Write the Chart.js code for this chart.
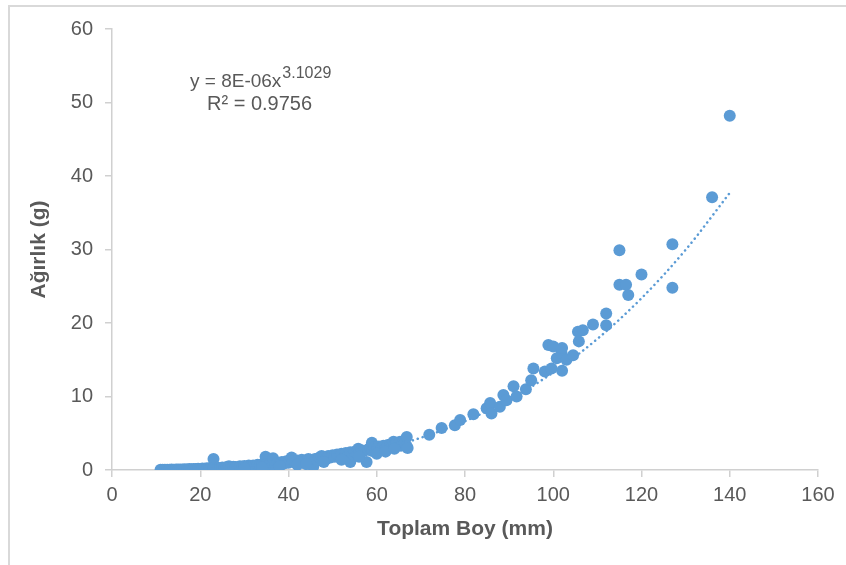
<!DOCTYPE html>
<html><head><meta charset="utf-8">
<script src="https://cdn.jsdelivr.net/npm/chart.js@4/dist/chart.umd.min.js"></script>
<style>
html,body{margin:0;padding:0;background:#fff;}
#wrap{position:relative;width:846px;height:565px;overflow:hidden;}
#frame{position:absolute;left:8px;top:5px;width:900px;height:700px;border-left:2px solid #d9d9d9;border-top:2px solid #d9d9d9;}
canvas{position:absolute;left:0;top:0;}
</style></head>
<body><div id="wrap"><div id="frame"></div><canvas id="c" width="846" height="565"></canvas></div>
<script>
// Observed points: total length (mm) and weight (g)
const lengthMm = [
 11,11.5,12,12.5,13,13.5,14,14.5,15,15.5,16,16.5,17,17.5,18,18.5,19,19.5,20,20.5,21,21.5,22,22.5,23,23,24,24.5,25,25.5,26,26.5,27,27.5,28,28.5,29,29.5,30,30.5,31,31.5,32,32.5,33,33.5,34,34.8,35,35.5,36,36.5,37,37.5,38,38.5,39,39.5,40,40.7,41,41.5,42,42.5,43,43.5,44,44.5,45,45.6,46,46.5,47,47.5,48,48.5,49,49.5,50,50.5,51,51.5,52,52.5,53,53.5,54,54,54.5,55,55.5,55.8,56,56.5,57,57.7,58,58.5,58.9,59,59.5,60,60.5,61,61.5,62,62.5,63,63.5,63.8,64,64.5,65,65.3,65.5,66,66.3,66.8,66.8,67,
 30,34,38,42,44,48,52,56,60,62,64,
 71.9,74.7,77.7,78.9,81.9,84.9,85.7,86,87.9,88.7,89.4,91,91.7,93.8,95,95.5,98.1,98.9,99.6,100,100.8,101.9,102,102,103,104.5,105.6,105.8,106.7,109,112,112,115,115,116.5,117,120,127,127,136,140
];
const weightG = [
 0.02,0.03,0.03,0.05,0.04,0.06,0.05,0.07,0.06,0.08,0.07,0.1,0.08,0.12,0.1,0.14,0.12,0.16,0.15,0.2,0.18,0.25,0.2,0.3,1.5,0.25,0.3,0.2,0.35,0.25,0.4,0.5,0.3,0.45,0.4,0.35,0.5,0.45,0.55,0.4,0.6,0.5,0.6,0.55,0.7,0.6,0.75,1.8,0.8,0.6,0.9,1.6,0.7,1.0,0.85,1.1,0.9,1.2,1.0,1.7,1.2,1.0,1.3,1.1,1.4,1.2,1.3,1.5,1.4,0.45,1.5,1.3,1.7,1.9,1.8,1.5,1.9,1.7,2.0,1.8,2.1,1.9,2.2,1.6,2.3,2.0,2.4,1.1,2.2,2.5,2.3,2.9,2.4,2.7,2.6,1.1,2.8,3.0,3.7,2.6,3.1,2.8,3.2,2.9,3.3,3.0,3.4,3.2,3.6,3.85,3.4,3.7,3.5,3.85,3.3,3.8,3.6,4.5,3.2,3.0,
 0.2,0.35,0.5,0.7,0.8,1.1,1.4,1.8,2.2,2.5,2.9,
 4.8,5.7,6.1,6.8,7.6,8.4,9.1,7.7,8.6,10.2,9.5,11.4,10.0,11.0,12.2,13.8,13.4,17.0,13.8,16.8,15.2,15.9,16.6,13.5,15.0,15.6,18.8,17.5,19.0,19.8,21.3,19.7,29.9,25.2,25.2,23.8,26.6,30.7,24.8,37.1,48.2
];
// Trendline values
const trendX = [11,20,30,40,50,60,70,80,90,100,110,120,130,140];
const trendY = [0.014,0.09,0.32,0.77,1.54,2.72,4.39,6.64,9.56,13.27,17.84,23.37,29.96,37.7];
const xTicks = [0,20,40,60,80,100,120,140,160];
const yTicks = [0,10,20,30,40,50,60];
const eqMain = 'y = 8E-06x';
const eqExp = '3.1029';
const eqR2 = 'R² = 0.9756';

const pts = lengthMm.map((x,i)=>({x:x,y:weightG[i]}));
const trend = trendX.map((x,i)=>({x:x,y:trendY[i]}));
const gray = '#595959';
const FONT = '"Liberation Sans", Arial, sans-serif';

const eqPlugin = {
  id:'eq',
  afterDraw(chart){
    const c = chart.ctx;
    c.save();
    c.fillStyle = gray;
    c.textBaseline = 'alphabetic';
    c.textAlign = 'left';
    c.font = '19px ' + FONT;
    const w1 = c.measureText(eqMain).width;
    const x0 = 190;
    c.fillText(eqMain, x0, 87);
    c.font = '16px ' + FONT;
    c.fillText(eqExp, x0 + w1 + 1, 78);
    c.font = '20px ' + FONT;
    c.fillText(eqR2, 207, 110);
    c.restore();
  }
};

new Chart(document.getElementById('c'), {
  type:'scatter',
  data:{datasets:[
    {data:trend, type:'line', showLine:true, borderColor:'#5b9bd5', borderWidth:2.5, borderDash:[0.1,5], borderCapStyle:'round', pointRadius:0, cubicInterpolationMode:'monotone', fill:false, order:1},
    {data:pts, backgroundColor:'#5b9bd5', borderColor:'#5b9bd5', pointRadius:6, pointHoverRadius:6, borderWidth:0, order:0}
  ]},
  options:{
    responsive:false, animation:false, devicePixelRatio:1,
    layout:{padding:{left:0,top:29,right:28,bottom:0}},
    plugins:{legend:{display:false}, tooltip:{enabled:false}},
    scales:{
      x:{type:'linear', min:0, max:160,
        afterBuildTicks(s){ s.ticks = xTicks.map(v=>({value:v})); },
        afterFit(s){ s.height = 95; },
        border:{display:true, color:'#d0d0d0', width:1.5},
        grid:{display:true, drawOnChartArea:false, drawTicks:true, tickLength:7, color:'#d0d0d0', lineWidth:1.5},
        ticks:{color:gray, font:{family:FONT,size:20}, padding:6, maxRotation:0},
        title:{display:true, text:'Toplam Boy (mm)', color:gray, font:{family:FONT,size:21,weight:'bold'}, padding:{top:23,bottom:23}}
      },
      y:{type:'linear', min:0, max:60,
        afterBuildTicks(s){ s.ticks = yTicks.map(v=>({value:v})); },
        afterFit(s){ s.width = 112; },
        border:{display:true, color:'#d0d0d0', width:1.5},
        grid:{display:true, drawOnChartArea:false, drawTicks:true, tickLength:7, color:'#d0d0d0', lineWidth:1.5},
        ticks:{color:gray, font:{family:FONT,size:20}, padding:12},
        title:{display:true, text:'Ağırlık (g)', color:gray, font:{family:FONT,size:21,weight:'bold'}, padding:{top:27,bottom:0}}
      }
    }
  },
  plugins:[eqPlugin]
});
</script></body></html>
